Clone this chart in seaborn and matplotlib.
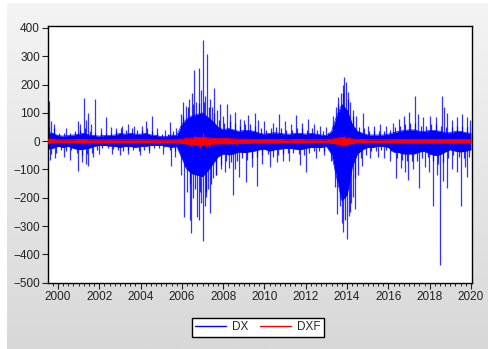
import numpy as np
import pandas as pd
import matplotlib
matplotlib.use("Agg")
import matplotlib.pyplot as plt
from matplotlib.lines import Line2D
from matplotlib.ticker import MultipleLocator, FuncFormatter
import seaborn as sns

# quarterly core of the DX band (solid part)
quarters = np.arange(1999.5, 2020.01, 0.25)
core_hi = [30, 28, 20, 18, 20, 22, 25, 28, 22, 20, 18, 20, 20, 22, 28, 25, 28, 25, 25, 28,
           22, 20, 16, 16, 22, 20, 60, 80, 90, 95, 100, 85, 70, 50, 40, 45, 40, 35, 38, 38,
           35, 28, 25, 28, 30, 28, 25, 25, 28, 28, 25, 28, 25, 22, 20, 35, 90, 130, 110, 60,
           35, 28, 22, 22, 22, 22, 25, 30, 35, 38, 40, 40, 35, 35, 38, 38, 35, 30, 30, 35,
           35, 30, 28]
core_lo = [-28, -25, -18, -22, -18, -25, -30, -28, -25, -18, -15, -15, -17, -18, -22, -18, -18, -22, -18, -18,
           -15, -15, -14, -18, -22, -18, -60, -100, -115, -120, -125, -105, -80, -55, -45, -48, -45, -38, -40, -38,
           -35, -30, -28, -35, -30, -28, -25, -25, -28, -30, -25, -22, -22, -22, -18, -45, -130, -210, -190, -90,
           -45, -30, -22, -22, -18, -18, -22, -38, -40, -45, -45, -45, -38, -35, -45, -50, -48, -38, -30, -35,
           -38, -35, -30]

# typical quarterly fringe of the band (the frequent medium moves)
fringe_hi = [50, 45, 30, 28, 30, 35, 40, 45, 35, 30, 28, 30, 30, 35, 45, 40, 45, 40, 40, 45,
             35, 30, 25, 25, 35, 30, 90, 120, 130, 135, 140, 120, 100, 75, 65, 70, 65, 55, 60, 60,
             55, 45, 40, 45, 50, 45, 40, 40, 45, 45, 40, 45, 40, 35, 30, 60, 130, 170, 150, 90,
             50, 45, 35, 35, 35, 35, 40, 50, 55, 60, 65, 65, 55, 55, 60, 60, 55, 50, 50, 55,
             55, 50, 45]
fringe_lo = [-45, -40, -30, -35, -30, -40, -50, -45, -40, -30, -25, -25, -28, -30, -35, -30, -30, -35, -30, -30,
             -25, -25, -22, -30, -35, -30, -90, -150, -170, -180, -180, -150, -120, -85, -70, -75, -70, -60, -65, -60,
             -55, -50, -45, -55, -50, -45, -40, -40, -45, -50, -40, -35, -35, -35, -30, -70, -200, -280, -250, -130,
             -60, -50, -35, -35, -30, -30, -35, -60, -65, -70, -70, -70, -60, -55, -70, -80, -75, -60, -50, -55,
             -60, -55, -50]

# single-day spikes of DX sticking out of the band
spike_dates = [1999.58, 1999.65, 1999.80, 2000.40, 2000.98, 2001.05, 2001.24, 2001.35, 2001.47, 2001.60,
               2001.81, 2002.10, 2002.32, 2002.55, 2002.80, 2003.10, 2003.40, 2003.70, 2004.05, 2004.26,
               2004.53, 2004.80, 2005.20, 2005.42, 2005.70, 2005.95, 2006.07, 2006.20, 2006.35, 2006.47,
               2006.60, 2006.70, 2006.81, 2006.92, 2007.04, 2007.12, 2007.23, 2007.35, 2007.45, 2007.57,
               2007.70, 2007.84, 2008.00, 2008.17, 2008.35, 2008.57, 2008.80, 2009.00, 2009.22, 2009.54,
               2009.70, 2010.00, 2010.40, 2010.72, 2011.00, 2011.30, 2011.54, 2011.80, 2012.12, 2012.40,
               2012.70, 2013.00, 2013.30, 2013.45, 2013.54, 2013.70, 2013.80, 2013.87, 2013.95, 2014.05,
               2014.15, 2014.30, 2014.45, 2014.76, 2015.00, 2015.30, 2015.60, 2015.90, 2016.20, 2016.50,
               2016.75, 2017.00, 2017.29, 2017.45, 2017.70, 2018.00, 2018.30, 2018.61, 2018.70, 2018.82,
               2019.10, 2019.30, 2019.55, 2019.80, 2019.95,
               1999.60, 1999.85, 2000.30, 2000.60, 2000.98, 2001.15, 2001.35, 2001.47, 2001.70, 2002.00,
               2002.62, 2003.00, 2003.40, 2003.97, 2004.40, 2005.10, 2005.46, 2005.65, 2005.98, 2006.12,
               2006.25, 2006.39, 2006.42, 2006.55, 2006.71, 2006.83, 2006.92, 2007.00, 2007.10, 2007.18,
               2007.28, 2007.37, 2007.52, 2007.65, 2007.90, 2008.10, 2008.30, 2008.46, 2008.55, 2008.75,
               2009.10, 2009.40, 2009.62, 2009.90, 2010.27, 2010.60, 2010.90, 2011.20, 2011.70, 2011.99,
               2012.50, 2012.90, 2013.20, 2013.41, 2013.51, 2013.65, 2013.75, 2013.82, 2013.98, 2014.10,
               2014.20, 2014.27, 2014.38, 2014.55, 2014.74, 2015.10, 2015.50, 2015.80, 2016.10, 2016.37,
               2016.60, 2016.80, 2016.97, 2017.20, 2017.48, 2017.75, 2017.95, 2018.17, 2018.35, 2018.50,
               2018.65, 2018.82, 2019.10, 2019.30, 2019.50, 2019.70, 2019.82]
spike_vals = [143, 70, 60, 45, 72, 60, 154, 75, 101, 60,
              150, 45, 87, 50, 45, 55, 60, 55, 55, 72,
              90, 45, 40, 69, 45, 95, 140, 125, 150, 169,
              251, 140, 257, 180, 356, 160, 309, 150, 120, 187,
              110, 133, 90, 133, 95, 104, 80, 75, 92, 98,
              75, 70, 65, 97, 70, 60, 92, 65, 80, 60,
              55, 50, 90, 120, 157, 170, 200, 226, 210, 175,
              140, 110, 90, 98, 55, 55, 60, 55, 65, 80,
              90, 104, 158, 95, 85, 90, 85, 158, 120, 98,
              75, 85, 96, 85, 75,
              -66, -60, -55, -66, -105, -75, -80, -88, -55, -45,
              -45, -50, -45, -50, -40, -45, -87, -55, -120, -267,
              -180, -278, -325, -200, -267, -278, -220, -353, -230, -196,
              -170, -255, -130, -120, -100, -110, -95, -190, -100, -125,
              -145, -90, -157, -80, -90, -75, -70, -70, -84, -108,
              -60, -50, -70, -162, -257, -230, -290, -320, -344, -265,
              -220, -198, -240, -120, -88, -60, -55, -60, -70, -130,
              -95, -110, -138, -100, -165, -90, -110, -228, -120, -437,
              -140, -165, -100, -110, -228, -90, -125]

# quarterly amplitude of the DXF band
dxf_amp = [7, 6, 5, 5, 5, 5, 6, 6, 5, 5, 5, 5, 5, 5, 5, 5, 5, 5, 5, 5,
           5, 5, 5, 5, 5, 5, 7, 10, 12, 13, 14, 12, 10, 9, 9, 9, 8, 7, 7, 7,
           6, 6, 6, 6, 6, 6, 5, 5, 6, 6, 5, 5, 5, 5, 5, 7, 10, 13, 11, 8,
           6, 6, 5, 5, 5, 5, 5, 6, 6, 6, 6, 6, 6, 6, 6, 6, 6, 6, 6, 6,
           6, 6, 6]
dxf_spike_dates = [1999.60, 2001.25, 2006.20, 2006.45, 2006.62, 2006.75, 2006.90, 2007.04, 2007.15,
                   2007.30, 2007.55, 2008.20, 2008.60, 2013.55, 2013.75, 2013.85, 2013.95, 2014.10, 2014.30]
dxf_spike_vals = [12, -10, 14, -18, 22, -16, -24, 28, -20,
                  -22, 16, 14, -12, 14, -16, 20, -18, 15, -12]

sns.set_style("white")
plt.rcParams['font.family'] = ['Liberation Sans', 'DejaVu Sans']

fig = plt.figure(figsize=(4.89, 3.49), dpi=100, facecolor='white')

# grey gradient panel behind the chart
bg = fig.add_axes([7 / 489, 0, 1 - 7 / 489, 1 - 3 / 349])
grad = np.linspace(244, 216, 256)[:, None] / 255.0
bg.imshow(np.dstack([grad, grad, grad]), aspect='auto', extent=[0, 1, 0, 1])
bg.set_axis_off()

ax = fig.add_axes([48.3 / 489, 1 - 282.7 / 349, (472 - 48.3) / 489, (282.7 - 26) / 349])
ax.set_facecolor('white')

n = len(quarters)
edges = pd.DataFrame({
    'date': np.concatenate([quarters, quarters, quarters, quarters]),
    'value': np.concatenate([core_hi, core_lo, dxf_amp, -np.array(dxf_amp)]),
    'series': ['DX'] * (2 * n) + ['DXF'] * (2 * n),
    'edge': ['hi'] * n + ['lo'] * n + ['hi'] * n + ['lo'] * n,
})

# DX
ax.fill_between(quarters, core_lo, core_hi, color='#0000ff', lw=0, zorder=2)
sns.lineplot(data=edges[edges.series == 'DX'], x='date', y='value', units='edge',
             estimator=None, color='#0000ff', lw=0.5, ax=ax, legend=False, zorder=2)
ax.vlines(quarters + 0.06, 0, fringe_hi, color='#0000ff', lw=0.9, alpha=0.85, zorder=2)
ax.vlines(quarters + 0.15, 0, fringe_lo, color='#0000ff', lw=0.9, alpha=0.85, zorder=2)
ax.vlines(spike_dates, 0, spike_vals, color='#0000ff', lw=0.9, alpha=0.8, zorder=2)

# DXF on top
ax.fill_between(quarters, -np.array(dxf_amp), dxf_amp, color='#ff0000', lw=0, zorder=3)
sns.lineplot(data=edges[edges.series == 'DXF'], x='date', y='value', units='edge',
             estimator=None, color='#ff0000', lw=0.6, ax=ax, legend=False, zorder=3)
ax.vlines(dxf_spike_dates, 0, dxf_spike_vals, color='#ff0000', lw=0.9, zorder=3)

ax.set_xlim(1999.53, 2020.05)
ax.set_ylim(-500, 407)
ax.set_xlabel('')
ax.set_ylabel('')
ax.xaxis.set_major_locator(MultipleLocator(2))
ax.xaxis.set_minor_locator(MultipleLocator(0.25))
ax.yaxis.set_major_locator(MultipleLocator(100))
ax.xaxis.set_major_formatter(FuncFormatter(lambda v, p: f"{int(round(v))}"))
ax.tick_params(axis='both', which='major', direction='out', length=4, width=0.8,
               labelsize=8.5, colors='#222222', pad=2)
ax.tick_params(axis='x', which='minor', direction='out', length=2.5, width=0.7, colors='#222222')
ax.tick_params(bottom=True, left=True, top=False, right=False)
ax.tick_params(axis='x', which='minor', bottom=True)
for s in ax.spines.values():
    s.set_color('black')
    s.set_linewidth(1.0)

handles = [Line2D([], [], color='#0000ff', lw=1), Line2D([], [], color='#ff0000', lw=1)]
leg = fig.legend(handles, ['DX', 'DXF'], loc='center', bbox_to_anchor=(0.527, 0.062), ncol=2,
                 fancybox=False, framealpha=1, edgecolor='black', fontsize=8.5,
                 handlelength=2.6, columnspacing=1.0, handletextpad=0.5, borderpad=0.3)
leg.get_frame().set_linewidth(1.0)

fig.savefig('out.png', dpi=100)
